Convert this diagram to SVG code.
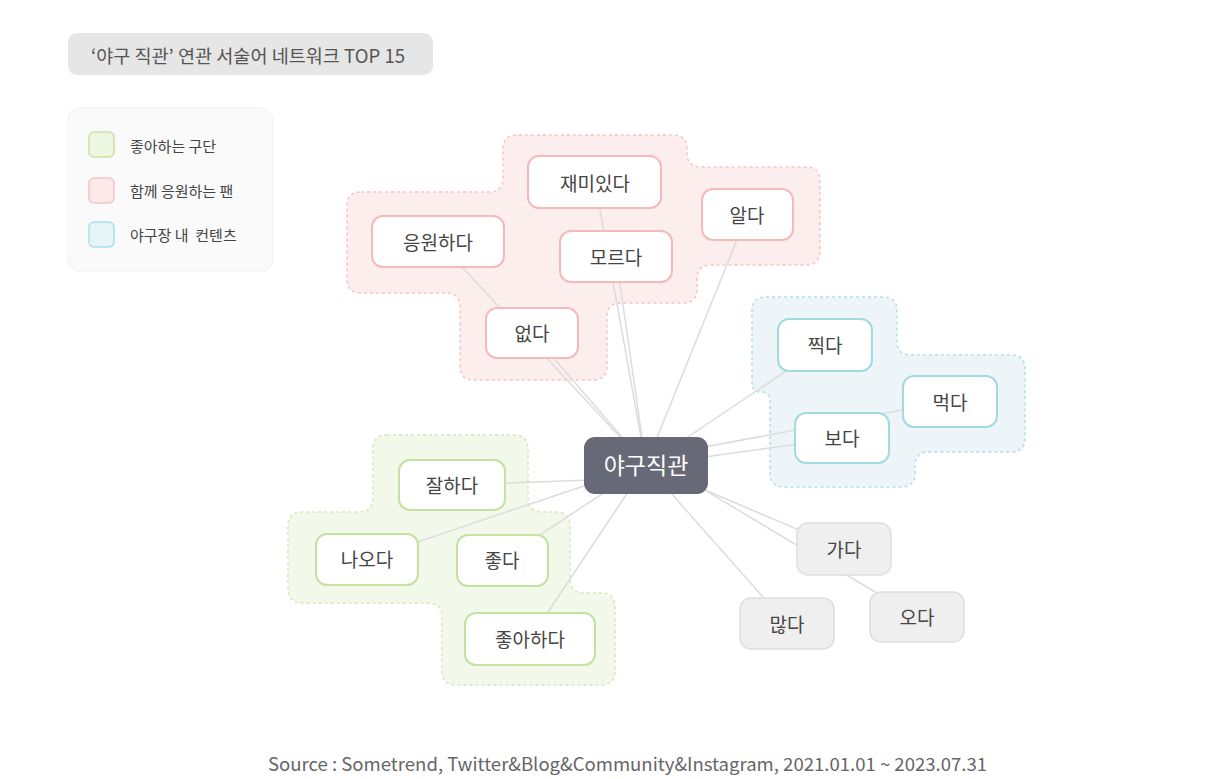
<svg xmlns="http://www.w3.org/2000/svg" width="1222" height="779" viewBox="0 0 1222 779">
<style>
text{font-family:"Noto Sans CJK KR","Noto Sans",sans-serif;}
.lbl{font-size:19px;fill:#454545;text-anchor:middle;dominant-baseline:central;}
.pk{fill:#fff;stroke:#f6b9b9;stroke-width:2;}
.gr{fill:#fff;stroke:#c3e29f;stroke-width:2;}
.bl{fill:#fff;stroke:#a2dae2;stroke-width:2;}
.gy{fill:#efefef;stroke:#dedede;stroke-width:1.5;}
.edge{stroke:#dcdcdc;stroke-width:1.5;fill:none;}
.leg{font-size:15px;fill:#444;dominant-baseline:central;white-space:pre;}
</style>
<rect width="1222" height="779" fill="#fff"/>
<g id="title">
<rect x="68" y="33" width="365" height="42" rx="9" fill="#e6e6e6"/>
<text x="91" y="55" font-size="18.5" fill="#555" dominant-baseline="central" textLength="314" lengthAdjust="spacingAndGlyphs">‘야구 직관’ 연관 서술어 네트워크 TOP 15</text>
</g>
<g id="legend">
<rect x="68" y="108" width="205" height="163" rx="12" fill="#fafafa" stroke="#f1f1f1"/>
<rect x="89" y="132" width="25" height="25" rx="5" fill="#eef6e2" stroke="#c8e4a6" stroke-width="1.5"/>
<text class="leg" x="130" y="145">좋아하는 구단</text>
<rect x="89" y="178" width="25" height="25" rx="5" fill="#fde9e9" stroke="#f6c3c3" stroke-width="1.5"/>
<text class="leg" x="130" y="190">함께 응원하는 팬</text>
<rect x="89" y="222" width="25" height="25" rx="5" fill="#e7f4f6" stroke="#abdee6" stroke-width="1.5"/>
<text class="leg" x="130" y="234" xml:space="preserve">야구장 내  컨텐츠</text>
</g>
<g id="groups">
<path id="group-fan" d="M 361,192 L 489,192 Q 503,192 503,178 L 503,149 Q 503,135 517,135 L 673,135 Q 687,135 687,149 L 687,153 Q 687,167 701,167 L 806,167 Q 820,167 820,181 L 820,251 Q 820,265 806,265 L 711,265 Q 697,265 697,279 L 697,289 Q 697,303 683,303 L 621,303 Q 607,303 607,317 L 607,366 Q 607,380 593,380 L 474,380 Q 460,380 460,366 L 460,307 Q 460,293 446,293 L 361,293 Q 347,293 347,279 L 347,206 Q 347,192 361,192 Z" fill="#fdeeee" stroke="#f7c4c4" stroke-width="1.5" stroke-dasharray="3 3"/>
<path id="group-content" d="M 766,297 L 883,297 Q 897,297 897,311 L 897,341 Q 897,355 911,355 L 1011,355 Q 1025,355 1025,369 L 1025,438 Q 1025,452 1011,452 L 929,452 Q 915,452 915,466 L 915,473 Q 915,487 901,487 L 784,487 Q 770,487 770,473 L 770,401 Q 770,392 761,392 Q 752,392 752,383 L 752,311 Q 752,297 766,297 Z" fill="#eef5f8" stroke="#b0dfe7" stroke-width="1.5" stroke-dasharray="3 3"/>
<path id="group-team" d="M 387,435 L 514,435 Q 528,435 528,449 L 528,498 Q 528,512 542,512 L 556,512 Q 570,512 570,526 L 570,579 Q 570,593 584,593 L 601,593 Q 615,593 615,607 L 615,671 Q 615,685 601,685 L 456,685 Q 442,685 442,671 L 442,617 Q 442,603 428,603 L 302,603 Q 288,603 288,589 L 288,526 Q 288,512 302,512 L 359,512 Q 373,512 373,498 L 373,449 Q 373,435 387,435 Z" fill="#f2f8ea" stroke="#d3e8b8" stroke-width="1.5" stroke-dasharray="3 3"/>
</g>
<g id="connectors">
<line class="edge" x1="438" y1="241" x2="646" y2="465"/>
<line class="edge" x1="532" y1="333" x2="646" y2="465"/>
<line class="edge" x1="595" y1="182" x2="646" y2="465"/>
<line class="edge" x1="616" y1="256" x2="646" y2="465"/>
<line class="edge" x1="747" y1="215" x2="646" y2="465"/>
<line class="edge" x1="825" y1="345" x2="646" y2="465"/>
<line class="edge" x1="842" y1="438" x2="646" y2="465"/>
<line class="edge" x1="950" y1="401" x2="646" y2="458"/>
<line class="edge" x1="844" y1="549" x2="646" y2="465"/>
<line class="edge" x1="917" y1="617" x2="646" y2="455"/>
<line class="edge" x1="787" y1="624" x2="646" y2="465"/>
<line class="edge" x1="452" y1="485" x2="646" y2="478"/>
<line class="edge" x1="367" y1="559" x2="646" y2="465"/>
<line class="edge" x1="502" y1="560" x2="646" y2="465"/>
<line class="edge" x1="530" y1="639" x2="646" y2="465"/>
</g>
<g id="n-jaemi"><rect class="pk" x="528" y="156" width="133" height="52" rx="11"/><text class="lbl" x="595" y="182">재미있다</text></g>
<g id="n-eungwon"><rect class="pk" x="372" y="216" width="132" height="51" rx="11"/><text class="lbl" x="438" y="241">응원하다</text></g>
<g id="n-moreuda"><rect class="pk" x="560" y="231" width="112" height="51" rx="11"/><text class="lbl" x="616" y="256">모르다</text></g>
<g id="n-alda"><rect class="pk" x="702" y="189" width="91" height="51" rx="11"/><text class="lbl" x="747" y="214">알다</text></g>
<g id="n-eopda"><rect class="pk" x="486" y="308" width="92" height="50" rx="11"/><text class="lbl" x="532" y="332">없다</text></g>
<g id="n-jjikda"><rect class="bl" x="778" y="319" width="94" height="52" rx="11"/><text class="lbl" x="825" y="344">찍다</text></g>
<g id="n-meokda"><rect class="bl" x="903" y="376" width="94" height="51" rx="11"/><text class="lbl" x="950" y="401">먹다</text></g>
<g id="n-boda"><rect class="bl" x="795" y="413" width="94" height="50" rx="11"/><text class="lbl" x="842" y="437">보다</text></g>
<g id="n-gada"><rect class="gy" x="797" y="523" width="94" height="52" rx="11"/><text class="lbl" x="844" y="548">가다</text></g>
<g id="n-oda"><rect class="gy" x="870" y="592" width="94" height="50" rx="11"/><text class="lbl" x="917" y="616">오다</text></g>
<g id="n-manta"><rect class="gy" x="740" y="598" width="94" height="51" rx="11"/><text class="lbl" x="787" y="623">많다</text></g>
<g id="n-jalhada"><rect class="gr" x="399" y="460" width="106" height="50" rx="11"/><text class="lbl" x="452" y="484">잘하다</text></g>
<g id="n-naoda"><rect class="gr" x="316" y="534" width="102" height="51" rx="11"/><text class="lbl" x="367" y="558">나오다</text></g>
<g id="n-jota"><rect class="gr" x="457" y="535" width="91" height="51" rx="11"/><text class="lbl" x="502" y="559">좋다</text></g>
<g id="n-joahada"><rect class="gr" x="465" y="613" width="130" height="52" rx="11"/><text class="lbl" x="530" y="638">좋아하다</text></g>
<g id="n-center"><rect x="584" y="437" width="124" height="57" rx="11" fill="#676a76"/><text x="646" y="464" font-size="23" fill="#fff" text-anchor="middle" dominant-baseline="central">야구직관</text></g>
<g id="footer">
<text x="268" y="763" font-size="18" fill="#666" dominant-baseline="central" textLength="719" lengthAdjust="spacingAndGlyphs">Source : Sometrend, Twitter&amp;Blog&amp;Community&amp;Instagram, 2021.01.01 ~ 2023.07.31</text>
</g>
</svg>
